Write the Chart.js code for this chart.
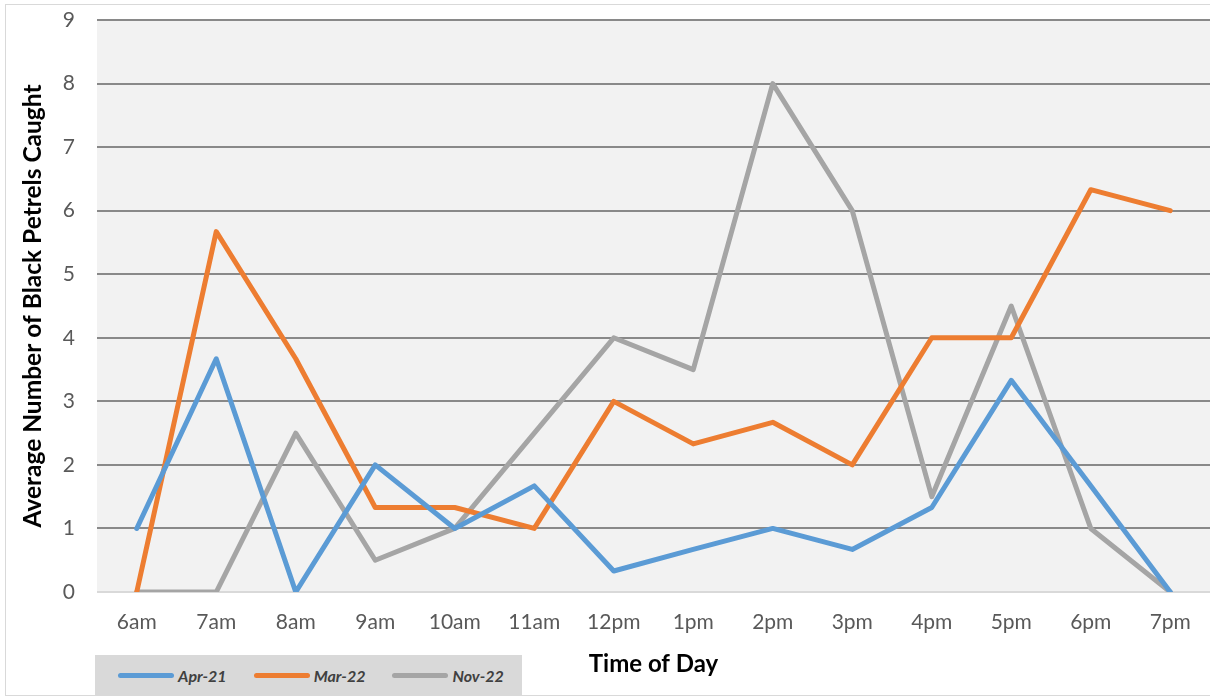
<!DOCTYPE html>
<html>
<head>
<meta charset="utf-8">
<script src="https://cdn.jsdelivr.net/npm/chart.js@4"></script>
<style>
  html, body { margin: 0; padding: 0; background: #fff; }
  #wrap { position: relative; width: 1210px; height: 699px; }
  #frame { position: absolute; left: 5px; top: 4px; width: 1210px; height: 692px; border: 1px solid #d9d9d9; box-sizing: border-box; pointer-events: none; }
  #legend { position: absolute; left: 95px; top: 655px; width: 427px; height: 40px; background: #d9d9d9;
    display: flex; align-items: center; font-family: Lato, sans-serif; font-weight: bold; font-style: italic; font-size: 16px; color: #404040; }
  .item { display: flex; align-items: center; margin-left: 23px; margin-right: 4px; }
  .sw { width: 56px; height: 5px; border-radius: 3px; margin-right: 4px; }
</style>
</head>
<body>
<div id="wrap">
  <canvas id="chart"></canvas>
  <div id="frame"></div>
  <div id="legend"></div>
</div>
<script>
// hours on the x axis
const times = ['6am','7am','8am','9am','10am','11am','12pm','1pm','2pm','3pm','4pm','5pm','6pm','7pm'];
const seriesNames = ['Apr-21','Mar-22','Nov-22'];
const apr21 = [1, 3.67, 0, 2, 1, 1.67, 0.33, 0.67, 1, 0.67, 1.33, 3.33, 1.67, 0];
const mar22 = [0, 5.67, 3.67, 1.33, 1.33, 1, 3, 2.33, 2.67, 2, 4, 4, 6.33, 6];
const nov22 = [0, 0, 2.5, 0.5, 1, 2.5, 4, 3.5, 8, 6, 1.5, 4.5, 1, 0];
const colors = ['#5b9bd5','#ed7d31','#a5a5a5'];

const font = 'Lato, sans-serif';

const plotBg = {
  id: 'plotBg',
  beforeDraw(chart){
    const a = chart.chartArea, c = chart.ctx;
    c.save(); c.fillStyle = '#f2f2f2';
    c.fillRect(a.left, a.top, a.right - a.left, a.bottom - a.top);
    c.restore();
  }
};

new Chart(document.getElementById('chart'), {
  type: 'line',
  data: {
    labels: times,
    datasets: [apr21, mar22, nov22].map((d, i) => ({
      label: seriesNames[i], data: d,
      borderColor: colors[i], backgroundColor: colors[i],
      borderWidth: 5, pointRadius: 0, tension: 0,
      borderJoinStyle: 'round', borderCapStyle: 'round'
    }))
  },
  options: {
    responsive: true, maintainAspectRatio: false, animation: false,
    layout: { padding: { top: 20, right: 0, left: 18, bottom: 0 } },
    plugins: { legend: { display: false }, tooltip: { enabled: false } },
    scales: {
      x: {
        offset: true,
        grid: { display: false },
        border: { display: false },
        ticks: { color: '#595959', font: { family: font, size: 21 }, padding: 10, maxRotation: 0 },
        title: { display: true, text: 'Time of Day', color: '#000', font: { family: font, size: 24, weight: 'bold' }, padding: { top: 10, bottom: 20 } },
        afterFit(s){ s.height = 107; }
      },
      y: {
        min: 0, max: 9,
        grid: { color: ctx => ctx.tick.value === 0 ? '#d9d9d9' : '#898989', lineWidth: 2, drawTicks: false },
        border: { display: false },
        ticks: { stepSize: 1, color: '#595959', font: { family: font, size: 21 }, padding: 22 },
        title: { display: true, text: 'Average Number of Black Petrels Caught', color: '#000', font: { family: font, size: 24.5, weight: 'bold' }, padding: 0 },
        afterFit(s){ s.width = 79; s.paddingTop = 0; s.paddingBottom = 0; }
      }
    }
  },
  plugins: [plotBg]
});

const lg = document.getElementById('legend');
seriesNames.forEach((n, i) => {
  const it = document.createElement('div'); it.className = 'item';
  const sw = document.createElement('div'); sw.className = 'sw'; sw.style.background = colors[i];
  const t = document.createElement('span'); t.innerText = n;
  it.appendChild(sw); it.appendChild(t); lg.appendChild(it);
});
</script>
</body>
</html>
